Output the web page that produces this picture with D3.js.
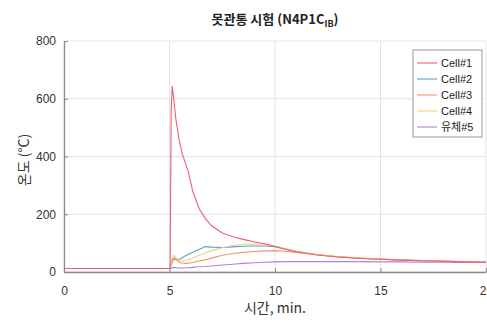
<!DOCTYPE html>
<html><head><meta charset="utf-8">
<script src="https://cdn.jsdelivr.net/npm/d3@7"></script>
<style>
body{margin:0;background:#fff;}
text{font-family:"Liberation Sans",Arial,"Noto Sans CJK KR",sans-serif;}
</style></head>
<body><svg id="c" width="487" height="324"></svg>
<script>
const seriesNames = ["Cell#1","Cell#2","Cell#3","Cell#4","유체#5"];
const seriesColors = ["#ef5f6e","#5a9fd0","#f4946c","#f3cf7c","#b680d6"];
const xTicks = [0,5,10,15,20];
const yTicks = [0,200,400,600,800];

const t1 = [0,5.0,5.03,5.08,5.13,5.2,5.3,5.45,5.6,5.75,5.9,6.1,6.4,6.7,7.0,7.5,8,8.5,9,9.5,10,10.5,11,12,13,14,15,16,17,18,19,20];
const cell1 = [12,12,12,560,644,600,530,460,410,378,345,280,220,185,160,135,122,113,105,98,88,78,70,59,52,47,44,41,39,37,35,34];

const t2 = [5.03,5.1,5.2,5.3,5.5,5.8,6.1,6.4,6.7,7.0,7.5,8,8.5,9,9.5,10,10.5,11,12,13,14,15,16,17,18,19,20];
const cell2 = [12,30,45,42,45,58,68,78,88,86,85,87,89,90,90,88,80,72,60,53,48,44,41,39,37,35,34];
const cell3 = [12,35,50,45,32,30,33,38,42,48,58,64,68,71,73,74,72,68,60,53,48,45,42,40,38,36,35];
const cell4 = [12,45,58,50,38,40,48,58,66,74,84,92,96,97,96,90,80,72,60,53,48,44,41,39,37,35,34];
const fluid5 = [12,14,16,15,14,14,16,18,19,21,24,27,30,32,34,35,36,36,36,36,36,35,35,34,34,33,33];

const series = [
  {t:t1, v:cell1}, {t:t2, v:cell2}, {t:t2, v:cell3}, {t:t2, v:cell4}, {t:t2, v:fluid5}
];

const svg = d3.select("#c");
const L=64, R=486, T=41, B=272;
const x = d3.scaleLinear().domain([0,20]).range([L,R]);
const y = d3.scaleLinear().domain([0,800]).range([B,T]);

// grid
svg.append("g").selectAll("line").data(xTicks).join("line")
  .attr("x1",d=>x(d)).attr("x2",d=>x(d)).attr("y1",T).attr("y2",B)
  .attr("stroke","#e4e4e4").attr("stroke-width",1);
svg.append("g").selectAll("line").data(yTicks).join("line")
  .attr("x1",L).attr("x2",R).attr("y1",d=>y(d)).attr("y2",d=>y(d))
  .attr("stroke","#e4e4e4").attr("stroke-width",1);

// lines
const line = d3.line().x(d=>x(d[0])).y(d=>y(d[1]));
const order = [1,2,3,4,0];
order.forEach(i=>{
  const s = series[i];
  svg.append("path").datum(s.t.map((tt,k)=>[tt,s.v[k]]))
    .attr("d",line).attr("fill","none")
    .attr("stroke",seriesColors[i]).attr("stroke-width",1.1);
});

// axes
const xa = svg.append("g").attr("transform",`translate(0,${B})`)
  .call(d3.axisBottom(x).tickValues(xTicks).tickSizeInner(-4).tickSizeOuter(0).tickPadding(14));
const ya = svg.append("g").attr("transform",`translate(${L},0)`)
  .call(d3.axisLeft(y).tickValues(yTicks).tickSizeInner(-4).tickSizeOuter(0).tickPadding(8));
[xa,ya].forEach(a=>{
  a.select(".domain").attr("stroke","#8a8a8a").attr("stroke-width",1.3);
  a.selectAll(".tick line").attr("stroke","#8a8a8a");
  a.selectAll(".tick text").attr("fill","#333").style("font-size","12px")
   .style("font-family","'Liberation Sans',Arial,sans-serif");
});

// title
const title = svg.append("text").attr("x",275).attr("y",24).attr("text-anchor","middle")
  .style("font-size","13px").style("font-weight","bold").attr("fill","#222")
  .style("font-family","'Noto Sans CJK KR','Liberation Sans',sans-serif");
title.append("tspan").text("못관통 시험 (N4P1C");
title.append("tspan").attr("dy",3).style("font-size","9px").text("IB");
title.append("tspan").attr("dy",-3).text(")");

// axis labels
svg.append("text").attr("transform","translate(29,160) rotate(-90)").attr("text-anchor","middle")
  .style("font-size","14px").attr("fill","#333")
  .style("font-family","'Noto Sans CJK KR',sans-serif").text("온도 (°C)");
svg.append("text").attr("x",275).attr("y",313).attr("text-anchor","middle")
  .style("font-size","14px").attr("fill","#333")
  .style("font-family","'Noto Sans CJK KR',sans-serif").text("시간, min.");

// legend
const lg = svg.append("g");
lg.append("rect").attr("x",413).attr("y",50).attr("width",69).attr("height",87)
  .attr("fill","#fff").attr("stroke","#9a9a9a").attr("stroke-width",1);
seriesNames.forEach((n,i)=>{
  const yy = 63 + i*16;
  lg.append("line").attr("x1",417).attr("x2",437).attr("y1",yy).attr("y2",yy)
    .attr("stroke",seriesColors[i]).attr("stroke-width",1.1);
  lg.append("text").attr("x",441).attr("y",yy+4).style("font-size","11px").attr("fill","#222")
    .style("font-family","'Liberation Sans Narrow','Liberation Sans','Noto Sans CJK KR',sans-serif")
    .text(n);
});
</script></body></html>
